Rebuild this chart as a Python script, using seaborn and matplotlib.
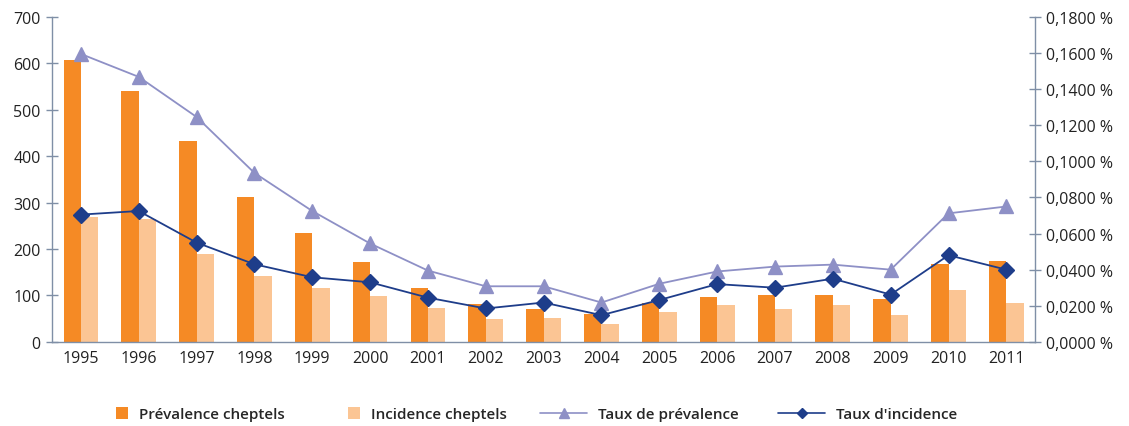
import numpy as np
import pandas as pd
import matplotlib
matplotlib.use("Agg")
import matplotlib.pyplot as plt
import seaborn as sns
from matplotlib.ticker import FuncFormatter, FixedLocator
from matplotlib.patches import Patch, Rectangle
from matplotlib.lines import Line2D
from matplotlib.legend_handler import HandlerPatch

years = [str(y) for y in range(1995, 2012)]
prevalence_cheptels = [608, 541, 433, 312, 235, 172, 116, 82, 71, 60, 84, 97, 100, 100, 93, 168, 175]
incidence_cheptels = [269, 265, 190, 142, 116, 99, 73, 50, 52, 39, 64, 80, 71, 80, 58, 112, 84]
taux_prevalence = [0.1595, 0.1468, 0.1246, 0.0936, 0.0725, 0.0545, 0.0395, 0.0308, 0.0308, 0.0218,
                   0.0322, 0.0390, 0.0417, 0.0428, 0.0400, 0.0712, 0.0750]
taux_incidence = [0.0705, 0.0725, 0.0550, 0.0430, 0.0358, 0.0330, 0.0245, 0.0185, 0.0218, 0.0148,
                  0.0232, 0.0320, 0.0300, 0.0350, 0.0262, 0.0480, 0.0400]

labels = ["Prévalence cheptels", "Incidence cheptels", "Taux de prévalence", "Taux d'incidence"]
c_dark = "#F58A25"
c_light = "#FBC594"
c_tri = "#8E90C6"
c_dia = "#1E3D8A"
axis_col = "#7F8FA6"

sns.set_theme(style="white")
plt.rcParams['font.family'] = ['Open Sans', 'DejaVu Sans']

df = pd.DataFrame({
    "year": years * 2,
    "value": prevalence_cheptels + incidence_cheptels,
    "serie": [labels[0]] * len(years) + [labels[1]] * len(years),
})

fig = plt.figure(figsize=(11.29, 4.27), dpi=100)
ax = fig.add_axes([0.046, 0.197, 0.871, 0.761])
sns.barplot(data=df, x="year", y="value", hue="serie", palette=[c_dark, c_light],
            width=0.6, ax=ax, legend=False, saturation=1, linewidth=0)

ax2 = ax.twinx()
dfl = pd.DataFrame({"year": years, "tp": taux_prevalence, "ti": taux_incidence})
sns.pointplot(data=dfl, x="year", y="tp", color=c_tri, markers="^", ax=ax2,
              linewidth=1.3, markersize=9.5)
sns.pointplot(data=dfl, x="year", y="ti", color=c_dia, markers="D", ax=ax2,
              linewidth=1.3, markersize=8)

ax.set_xlim(-0.5, len(years) - 0.5)
ax.set_ylim(0, 700)
ax2.set_ylim(0, 0.18)
ax.set_yticks(np.arange(0, 701, 100))
ax2.set_yticks(np.arange(0, 0.1801, 0.02))
ax2.yaxis.set_major_formatter(FuncFormatter(lambda v, p: f"{v:.4f} %".replace(".", ",")))

ax.set_xlabel("")
ax.set_ylabel("")
ax2.set_xlabel("")
ax2.set_ylabel("")

for a in (ax, ax2):
    a.spines["top"].set_visible(False)
    for s in ("left", "right", "bottom"):
        a.spines[s].set_color(axis_col)
        a.spines[s].set_linewidth(1.0)
ax.spines["right"].set_visible(False)
ax2.spines["left"].set_visible(False)
ax2.spines["bottom"].set_visible(False)

fs = 11.5
ax.tick_params(axis="y", direction="inout", length=8, width=1, color=axis_col,
               labelsize=fs, labelcolor="#222222", pad=4)
ax2.tick_params(axis="y", direction="inout", length=8, width=1, color=axis_col,
                labelsize=fs, labelcolor="#222222", pad=4)
ax.tick_params(axis="x", which="major", length=0, labelsize=fs, labelcolor="#222222", pad=6)
ax.xaxis.set_minor_locator(FixedLocator(np.arange(0.5, len(years) - 1, 1.0)))
ax.tick_params(axis="x", which="minor", direction="inout", length=10, width=1, color=axis_col)
ax2.set_xlim(-0.5, len(years) - 0.5)


def square_patch(legend, orig_handle, xdescent, ydescent, width, height, fontsize):
    size = height * 1.15
    return Rectangle((width - size - xdescent, -ydescent + (height - size) / 2), size, size)


handles = [
    Patch(facecolor=c_dark, edgecolor="none"),
    Patch(facecolor=c_light, edgecolor="none"),
    Line2D([], [], color=c_tri, marker="^", markersize=7, linewidth=1.2),
    Line2D([], [], color=c_dia, marker="D", markersize=5.5, linewidth=1.2),
]
x_starts = [113, 345, 540, 778]
hlens = [1.0, 1.0, 3.1, 3.1]
for h, lab, x0, hl in zip(handles, labels, x_starts, hlens):
    fig.legend([h], [lab], loc="center left", bbox_to_anchor=(x0 / 1129, 1 - 415 / 427),
               frameon=False, borderpad=0, borderaxespad=0, handlelength=hl,
               handletextpad=0.7, prop={"size": 11, "weight": "semibold"},
               handler_map={Patch: HandlerPatch(patch_func=square_patch)})

fig.savefig("out.png", dpi=100)
